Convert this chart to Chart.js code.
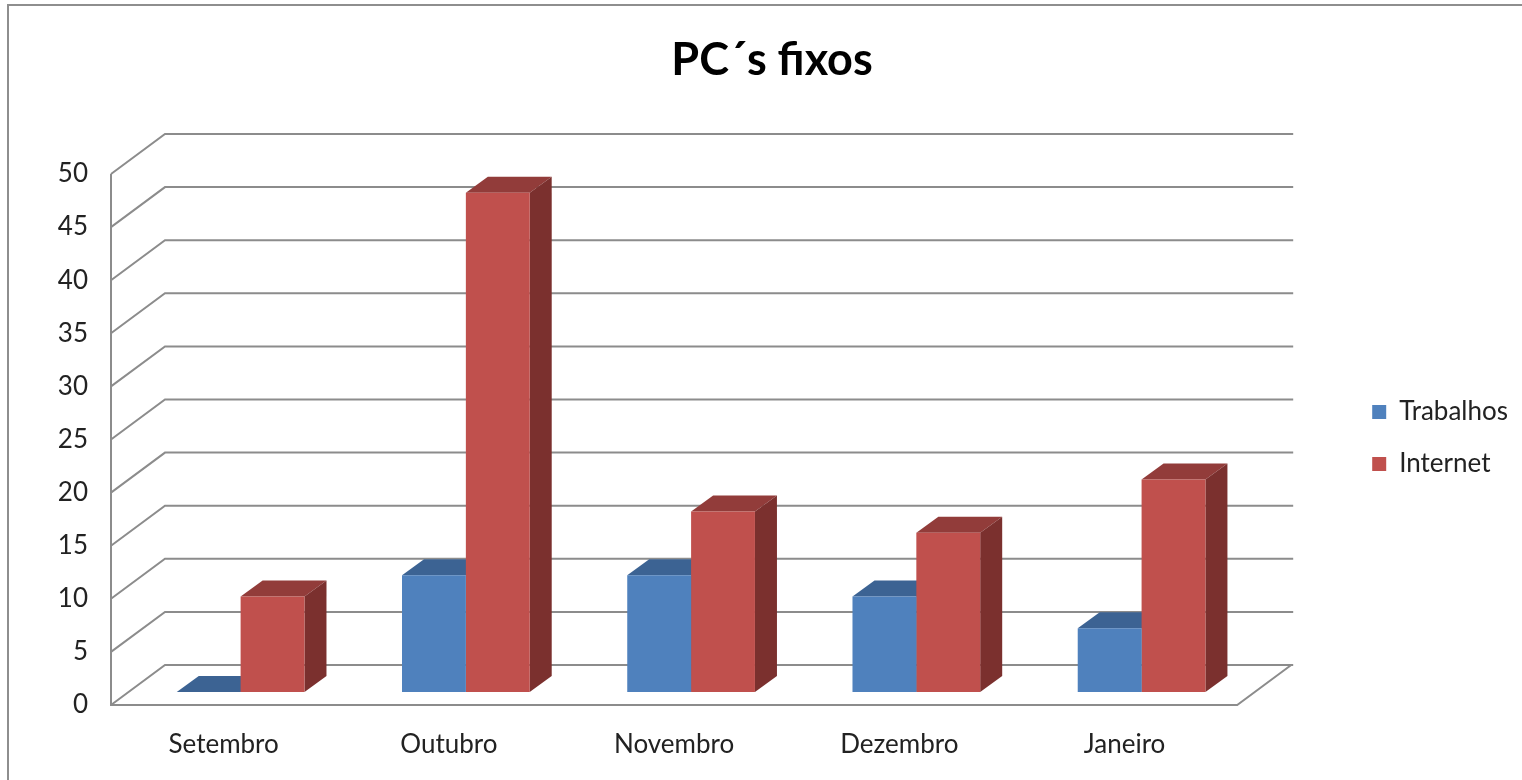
<!DOCTYPE html>
<html>
<head>
<meta charset="utf-8">
<script src="https://cdn.jsdelivr.net/npm/chart.js@4/dist/chart.umd.min.js"></script>
<style>
  html, body { margin: 0; padding: 0; background: #ffffff; overflow: hidden; }
  #frame { position: absolute; left: 7px; top: 4px; width: 1600px; height: 900px; border: 2px solid #8e8e8e; box-sizing: border-box; }
  #wrap { position: absolute; left: 0; top: 0; width: 1522px; height: 780px; }
</style>
</head>
<body>
<div id="frame"></div>
<div id="wrap"><canvas id="c" width="1522" height="780"></canvas></div>
<script>
const categories = ['Setembro', 'Outubro', 'Novembro', 'Dezembro', 'Janeiro'];
const trabalhos = [0, 11, 11, 9, 6];
const internet = [9, 47, 17, 15, 20];
const seriesNames = ['Trabalhos', 'Internet'];
const yTicks = [0, 5, 10, 15, 20, 25, 30, 35, 40, 45, 50];

const FRONT = ['#4F81BD', '#C0504D'];
const TOP = ['#3C6393', '#923C3A'];
const SIDE = ['#375B88', '#7B302E'];

// 3D depth geometry (pixels)
const WALL_DX = 54, WALL_DY = 40;   // depth of the whole floor/wall
const MID_DX = 17, MID_DY = 13;     // bars sit this far behind the front edge
const BAR_DX = 22, BAR_DY = 16;     // depth of each bar

const threeD = {
  id: 'threeD',
  beforeDatasetsDraw(chart) {
    const { ctx, chartArea, scales } = chart;
    const y = scales.y;
    const fx0 = chartArea.left - MID_DX;
    const fx1 = chartArea.right - MID_DX;
    ctx.save();
    ctx.strokeStyle = '#8c8c8c';
    ctx.lineWidth = 2;
    ctx.lineJoin = 'miter';
    // back wall gridlines with diagonal side-wall segments
    yTicks.forEach(v => {
      const yy = y.getPixelForValue(v) + MID_DY;
      ctx.beginPath();
      ctx.moveTo(fx0, yy);
      ctx.lineTo(fx0 + WALL_DX, yy - WALL_DY);
      ctx.lineTo(fx1 + WALL_DX + 2, yy - WALL_DY);
      ctx.stroke();
    });
    // front axis and floor
    const y0 = y.getPixelForValue(0) + MID_DY;
    const yTop = y.getPixelForValue(yTicks[yTicks.length - 1]) + MID_DY;
    ctx.beginPath();
    ctx.moveTo(fx0, yTop);
    ctx.lineTo(fx0, y0);
    ctx.lineTo(fx1, y0);
    ctx.lineTo(fx1 + WALL_DX, y0 - WALL_DY);
    ctx.stroke();

    // bar top and side faces
    chart.data.datasets.forEach((ds, i) => {
      const meta = chart.getDatasetMeta(i);
      meta.data.forEach(bar => {
        const p = bar.getProps(['x', 'y', 'base', 'width'], true);
        const l = p.x - p.width / 2, r = p.x + p.width / 2;
        const t = p.y, b = p.base;
        ctx.fillStyle = TOP[i];
        ctx.beginPath();
        ctx.moveTo(l, t);
        ctx.lineTo(l + BAR_DX, t - BAR_DY);
        ctx.lineTo(r + BAR_DX, t - BAR_DY);
        ctx.lineTo(r, t);
        ctx.closePath();
        ctx.fill();
        if (b - t > 0.5) {
          ctx.fillStyle = SIDE[i];
          ctx.beginPath();
          ctx.moveTo(r, t);
          ctx.lineTo(r + BAR_DX, t - BAR_DY);
          ctx.lineTo(r + BAR_DX, b - BAR_DY);
          ctx.lineTo(r, b);
          ctx.closePath();
          ctx.fill();
        }
      });
    });
    ctx.restore();
  }
};

const FONT = 'Lato, "Open Sans", sans-serif';

new Chart(document.getElementById('c'), {
  type: 'bar',
  data: {
    labels: categories,
    datasets: [
      { label: seriesNames[0], data: trabalhos, backgroundColor: FRONT[0], borderWidth: 0 },
      { label: seriesNames[1], data: internet, backgroundColor: FRONT[1], borderWidth: 0 }
    ]
  },
  options: {
    responsive: false,
    animation: false,
    events: [],
    categoryPercentage: 0.567,
    barPercentage: 1.0,
    layout: { padding: { left: 26, right: 4, top: 0, bottom: 0 } },
    plugins: {
      title: {
        display: true,
        text: 'PC´s fixos',
        color: '#000000',
        font: { family: FONT, size: 45, weight: 'bold' },
        padding: { top: 33, bottom: 74 }
      },
      legend: {
        display: true,
        position: 'right',
        fullSize: false,
        title: { display: true, text: '', font: { size: 10 }, padding: { top: 5, bottom: 6 } },
        labels: {
          color: '#222222',
          font: { family: FONT, size: 26 },
          boxWidth: 14,
          boxHeight: 14,
          padding: 26
        }
      },
      tooltip: { enabled: false }
    },
    scales: {
      x: {
        grid: { display: false, drawTicks: false },
        border: { display: false },
        ticks: { color: '#222222', font: { family: FONT, size: 26 }, padding: 37, labelOffset: -MID_DX, maxRotation: 0 },
        afterFit: s => { s.height = 88; }
      },
      y: {
        min: 0,
        max: 50,
        grid: { display: false, drawTicks: false },
        border: { display: false },
        ticks: { stepSize: 5, color: '#222222', font: { family: FONT, size: 26 }, padding: 40, labelOffset: MID_DY },
        afterFit: s => { s.width = 102; }
      },
      yR: {
        type: 'linear',
        position: 'right',
        display: true,
        grid: { display: false, drawTicks: false },
        border: { display: false },
        ticks: { display: false },
        afterFit: s => { s.width = 92; }
      }
    }
  },
  plugins: [threeD]
});
</script>
</body>
</html>
